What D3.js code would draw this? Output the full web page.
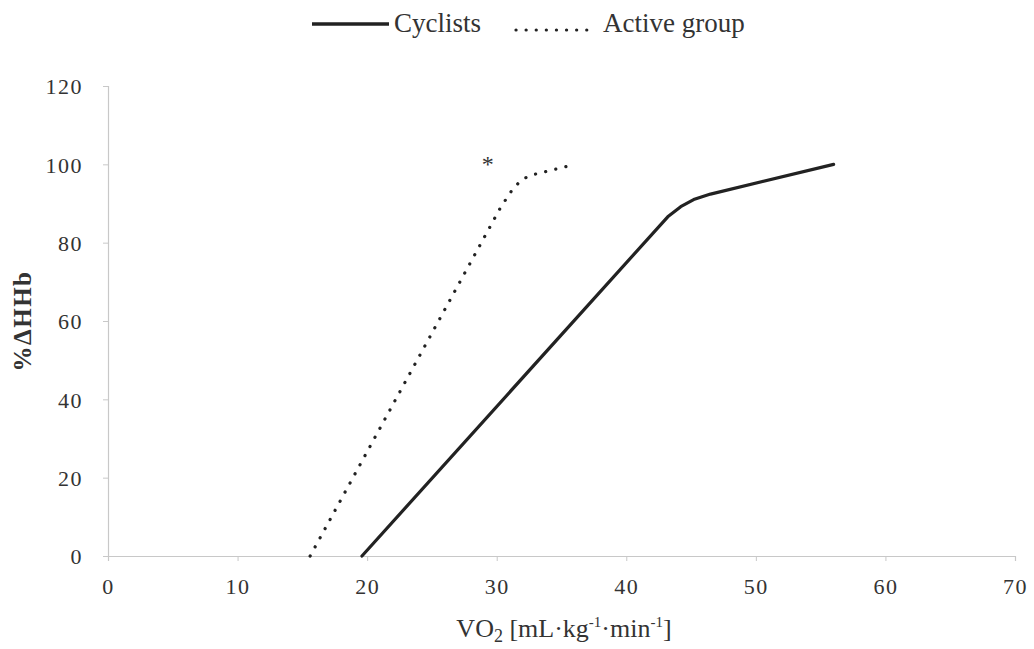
<!DOCTYPE html>
<html>
<head>
<meta charset="utf-8">
<script src="https://cdn.jsdelivr.net/npm/d3@7"></script>
<style>
  html, body { margin: 0; padding: 0; background: #fff; }
  svg { display: block; }
  text { font-family: "Liberation Serif", "DejaVu Serif", serif; fill: #333; }
</style>
</head>
<body>
<svg id="chart" width="1034" height="649"></svg>
<script>
// %ΔHHb vs VO2 for the two groups
const cyclistsVO2 = [19.6, 43.2, 44.2, 45.2, 46.5, 56.0];
const cyclistsHHb = [0, 86.6, 89.2, 91.0, 92.4, 100];
const activeVO2 = [15.6, 30.3, 31.2, 31.9, 32.6, 35.7];
const activeHHb = [0, 89, 93.5, 96, 97.2, 99.7];
const xTicks = [0, 10, 20, 30, 40, 50, 60, 70];
const yTicks = [0, 20, 40, 60, 80, 100, 120];
const seriesNames = ["Cyclists", "Active group"];
const significance = { vo2: 29.3, hhb: 101, label: "*" };

const svg = d3.select("#chart");
const margin = { left: 108, right: 19, top: 86, bottom: 93 };
const W = 1034, H = 649;

const x = d3.scaleLinear().domain([0, 70]).range([margin.left, W - margin.right]);
const y = d3.scaleLinear().domain([0, 120]).range([H - margin.bottom, margin.top]);

// axes
const xAxis = svg.append("g")
  .attr("transform", `translate(0,${y(0)})`)
  .call(d3.axisBottom(x).tickValues(xTicks).tickSize(5).tickPadding(17));
const yAxis = svg.append("g")
  .attr("transform", `translate(${x(0)},0)`)
  .call(d3.axisLeft(y).tickValues(yTicks).tickSize(5).tickPadding(20));

[xAxis, yAxis].forEach(g => {
  g.select(".domain").attr("stroke", "#c8c8c8").attr("stroke-width", 1.2);
  g.selectAll(".tick line").attr("stroke", "#c8c8c8");
  g.selectAll(".tick text")
    .style("font-family", "'Liberation Serif', serif")
    .style("font-size", "22px")
    .style("letter-spacing", "1.5px")
    .attr("fill", "#3a3a3a");
});
yAxis.selectAll(".tick text").attr("dy", "0.35em");

// lines
const line = d3.line().x(d => x(d[0])).y(d => y(d[1]));
const cyclists = cyclistsVO2.map((v, i) => [v, cyclistsHHb[i]]);
const active = activeVO2.map((v, i) => [v, activeHHb[i]]);

svg.append("path").datum(cyclists)
  .attr("d", line)
  .attr("fill", "none").attr("stroke", "#222").attr("stroke-width", 3.2)
  .attr("stroke-linejoin", "round").attr("stroke-linecap", "round");

svg.append("path").datum(active)
  .attr("d", line)
  .attr("fill", "none").attr("stroke", "#222").attr("stroke-width", 3.2)
  .attr("stroke-linecap", "round").attr("stroke-linejoin", "round")
  .attr("stroke-dasharray", "0.1,10.3");

// significance marker
svg.append("text")
  .attr("x", x(significance.vo2)).attr("y", y(significance.hhb))
  .attr("dy", "0.5em")
  .attr("text-anchor", "middle")
  .style("font-size", "24px").attr("fill", "#777")
  .text(significance.label);

// axis titles
svg.append("text")
  .attr("x", 564).attr("y", 637)
  .attr("text-anchor", "middle")
  .style("font-size", "26px")
  .html('VO<tspan font-size="18" dy="5">2</tspan><tspan dy="-5"> [mL·kg</tspan><tspan font-size="15" dy="-10">-1</tspan><tspan dy="10">·min</tspan><tspan font-size="15" dy="-10">-1</tspan><tspan dy="10">]</tspan>');

svg.append("text")
  .attr("transform", `translate(31,${(y(0) + y(120)) / 2}) rotate(-90)`)
  .attr("text-anchor", "middle")
  .style("font-size", "25px").style("font-weight", "bold").style("letter-spacing", "1.5px")
  .attr("fill", "#333")
  .text("%ΔHHb");

// legend
const legend = svg.append("g");
legend.append("line").attr("x1", 312).attr("x2", 389).attr("y1", 24).attr("y2", 24)
  .attr("stroke", "#222").attr("stroke-width", 3.4);
legend.append("text").attr("x", 394).attr("y", 32)
  .style("font-size", "27px").text(seriesNames[0]);
legend.append("line").attr("x1", 516).attr("x2", 596).attr("y1", 30).attr("y2", 30)
  .attr("stroke", "#222").attr("stroke-width", 3.2)
  .attr("stroke-linecap", "round").attr("stroke-dasharray", "0.1,10");
legend.append("text").attr("x", 603).attr("y", 32)
  .style("font-size", "27px").text(seriesNames[1]);
</script>
</body>
</html>
